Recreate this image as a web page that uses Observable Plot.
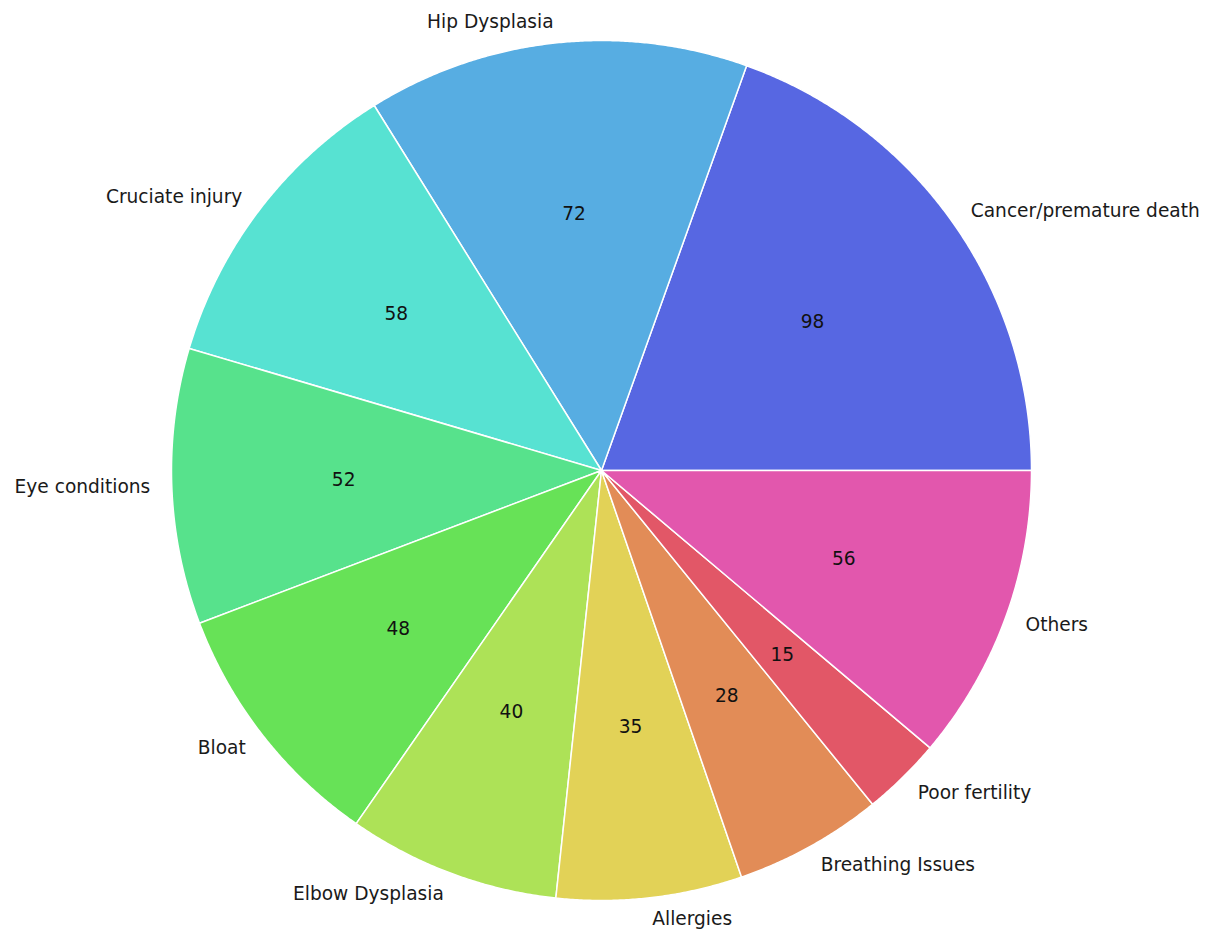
<!DOCTYPE html>
<html>
<head>
<meta charset="utf-8">
<script src="https://cdn.jsdelivr.net/npm/d3@7"></script>
<script src="https://cdn.jsdelivr.net/npm/@observablehq/plot@0.6"></script>
<style>
  html, body { margin: 0; padding: 0; background: #ffffff; }
  #chart { width: 1214px; height: 932px; }
</style>
</head>
<body>
<div id="chart"></div>
<script>
// Data (counter-clockwise from 3 o'clock, as in the reference)
const categories = ["Cancer/premature death", "Hip Dysplasia", "Cruciate injury", "Eye conditions", "Bloat",
  "Elbow Dysplasia", "Allergies", "Breathing Issues", "Poor fertility", "Others"];
const counts = [98, 72, 58, 52, 48, 40, 35, 28, 15, 56];
const colors = ["#5767E2", "#57ADE2", "#57E2D2", "#57E28C", "#67E257",
  "#ADE257", "#E2D257", "#E28C57", "#E25767", "#E257AD"];

const total = d3.sum(counts);
// Slice angles (radians), starting at 0 and going counter-clockwise
const slices = [];
let acc = 0;
categories.forEach((name, i) => {
  const a0 = acc / total * 2 * Math.PI;
  acc += counts[i];
  const a1 = acc / total * 2 * Math.PI;
  slices.push({name, value: counts[i], a0, a1, mid: (a0 + a1) / 2});
});

// Polygon outline for each wedge in unit-circle data coordinates
const wedgePts = [];
for (const s of slices) {
  wedgePts.push({name: s.name, x: 0, y: 0});
  const n = Math.max(2, Math.ceil((s.a1 - s.a0) / 0.005));
  for (let k = 0; k <= n; k++) {
    const a = s.a0 + (s.a1 - s.a0) * k / n;
    wedgePts.push({name: s.name, x: Math.cos(a), y: Math.sin(a)});
  }
  wedgePts.push({name: s.name, x: 0, y: 0});
}

const labelR = 1.05, pctR = 0.6;
const labels = slices.map(s => ({name: s.name, value: s.value,
  lx: labelR * Math.cos(s.mid), ly: labelR * Math.sin(s.mid),
  px: pctR * Math.cos(s.mid), py: pctR * Math.sin(s.mid)}));

const font = "DejaVu Sans, sans-serif";
const fs = 18.6;
const chart = Plot.plot({
  width: 1214,
  height: 932,
  marginLeft: 171,
  marginRight: 183,
  marginTop: 40,
  marginBottom: 32,
  x: {domain: [-1, 1], axis: null},
  y: {domain: [-1, 1], axis: null},
  color: {domain: categories, range: colors},
  style: {fontFamily: font, background: "white", overflow: "visible"},
  marks: [
    Plot.line(wedgePts, {x: "x", y: "y", z: "name", fill: "name", stroke: "white", strokeWidth: 1.5, curve: "linear"}),
    Plot.text(labels, {x: "px", y: "py", text: d => String(d.value), fontSize: fs, fill: "#111", textAnchor: "middle"}),
    Plot.text(labels.filter(d => d.lx >= 0), {x: "lx", y: "ly", text: "name", fontSize: fs, fill: "#1a1a1a", textAnchor: "start"}),
    Plot.text(labels.filter(d => d.lx < 0), {x: "lx", y: "ly", text: "name", fontSize: fs, fill: "#1a1a1a", textAnchor: "end"})
  ]
});
document.getElementById("chart").appendChild(chart);
</script>
</body>
</html>
